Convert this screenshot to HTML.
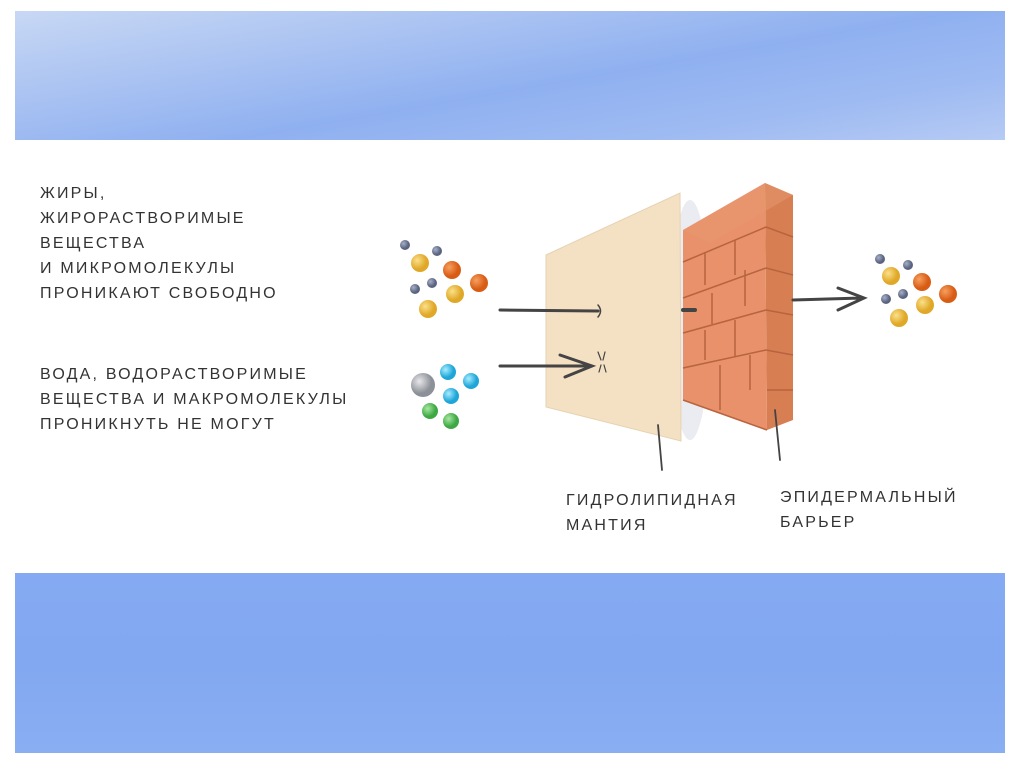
<!DOCTYPE html>
<html><head><meta charset="utf-8"><style>
html,body{margin:0;padding:0;width:1024px;height:767px;background:#fff;overflow:hidden}
.band{position:absolute;left:15px;width:990px}
.t{position:absolute;font-family:"Liberation Sans","DejaVu Sans",sans-serif;font-size:16px;color:#333;letter-spacing:2.2px;line-height:25px;text-transform:uppercase;white-space:nowrap}
</style></head><body>
<div class="band" style="top:11px;height:129px;background:linear-gradient(170deg,#c8d8f4 0%,#a9c2f2 30%,#8fb0f0 55%,#9fbbf2 80%,#b6cbf4 100%)"></div>
<div class="band" style="top:573px;height:180px;background:linear-gradient(180deg,#85aaf3 0%,#82a8f1 50%,#8aaef2 100%)"></div>
<div class="t" style="left:40px;top:181px">Жиры,<br>жирорастворимые<br>вещества<br>и микромолекулы<br>проникают свободно</div>
<div class="t" style="left:40px;top:362px">вода, водорастворимые<br>вещества и макромолекулы<br>проникнуть не могут</div>
<div class="t" style="left:566px;top:488px">гидролипидная<br>мантия</div>
<div class="t" style="left:780px;top:485px">эпидермальный<br>барьер</div>
<svg width="1024" height="767" style="position:absolute;left:0;top:0">
<defs>
<radialGradient id="y" cx="35%" cy="35%"><stop offset="0" stop-color="#fbe08a"/><stop offset="1" stop-color="#e0a828"/></radialGradient>
<radialGradient id="o" cx="35%" cy="35%"><stop offset="0" stop-color="#f7a060"/><stop offset="1" stop-color="#d85c14"/></radialGradient>
<radialGradient id="g" cx="35%" cy="35%"><stop offset="0" stop-color="#a8b0c8"/><stop offset="1" stop-color="#5a6480"/></radialGradient>
<radialGradient id="b" cx="35%" cy="35%"><stop offset="0" stop-color="#a8ecff"/><stop offset="1" stop-color="#1ea6d8"/></radialGradient>
<radialGradient id="gr" cx="35%" cy="35%"><stop offset="0" stop-color="#a8e8a0"/><stop offset="1" stop-color="#3ea844"/></radialGradient>
<radialGradient id="s" cx="35%" cy="35%"><stop offset="0" stop-color="#e8e8ea"/><stop offset="1" stop-color="#8c9098"/></radialGradient>
</defs>
<circle cx="405" cy="245" r="5" fill="url(#g)"/><circle cx="437" cy="251" r="5" fill="url(#g)"/>
<circle cx="420" cy="263" r="9" fill="url(#y)"/><circle cx="452" cy="270" r="9" fill="url(#o)"/>
<circle cx="479" cy="283" r="9" fill="url(#o)"/><circle cx="415" cy="289" r="5" fill="url(#g)"/>
<circle cx="432" cy="283" r="5" fill="url(#g)"/><circle cx="455" cy="294" r="9" fill="url(#y)"/>
<circle cx="428" cy="309" r="9" fill="url(#y)"/>
<circle cx="423" cy="385" r="12" fill="url(#s)"/><circle cx="448" cy="372" r="8" fill="url(#b)"/>
<circle cx="471" cy="381" r="8" fill="url(#b)"/><circle cx="451" cy="396" r="8" fill="url(#b)"/>
<circle cx="430" cy="411" r="8" fill="url(#gr)"/><circle cx="451" cy="421" r="8" fill="url(#gr)"/>
<circle cx="880" cy="259" r="5" fill="url(#g)"/><circle cx="908" cy="265" r="5" fill="url(#g)"/>
<circle cx="891" cy="276" r="9" fill="url(#y)"/><circle cx="922" cy="282" r="9" fill="url(#o)"/>
<circle cx="948" cy="294" r="9" fill="url(#o)"/><circle cx="886" cy="299" r="5" fill="url(#g)"/>
<circle cx="903" cy="294" r="5" fill="url(#g)"/><circle cx="925" cy="305" r="9" fill="url(#y)"/>
<circle cx="899" cy="318" r="9" fill="url(#y)"/>
<ellipse cx="690" cy="320" rx="20" ry="120" fill="#dde0e8" opacity="0.6"/>
<polygon points="546,255 680,193 681,441 546,407" fill="#f4e1c4" stroke="#e6d2b2"/>
<polygon points="765,183 793,195 793,420 767,430" fill="#d77f52"/>
<polygon points="683,230 765,183 767,430 683,400" fill="#e8916a"/>
<polygon points="683,230 765,183 793,195 710,243" fill="#e89a72" opacity="0.5"/>
<g stroke="#b86440" stroke-width="1.5" fill="none">
<path d="M683,262 L766,227 M683,298 L766,268 M683,333 L766,310 M683,368 L766,350 M683,400 L767,430"/>
<path d="M705,252 V285 M735,240 V275 M745,270 V306 M712,293 V324 M735,320 V356 M705,330 V360 M750,355 V390 M720,365 V410"/>
<path d="M766,227 L793,237 M766,268 L793,275 M766,310 L793,315 M766,350 L793,355 M767,390 L793,390"/>
</g>
<g stroke="#444" stroke-width="3" fill="none" stroke-linecap="round">
<path d="M500,310 L598,311"/>
<path d="M598,305 q5,6 0,12" stroke-width="1.5"/>
<path d="M683,310 L695,310" stroke-width="4"/>
<path d="M500,366 L590,366 M560,355 L592,366 L565,377"/>
<path d="M793,300 L862,298 M838,288 L864,298 L838,310"/>
<path d="M598,352 l3,8 M605,352 l-2,8 M599,372 l2,-7 M606,372 l-2,-7" stroke-width="1.2"/>
<path d="M658,425 L662,470 M775,410 L780,460" stroke-width="1.8"/>
</g>
</svg>
</body></html>
